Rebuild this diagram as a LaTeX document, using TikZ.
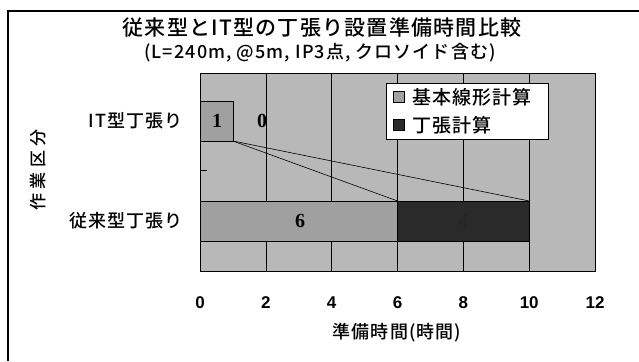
\documentclass[tikz,border=0pt]{standalone}
\usepackage{fontspec}
\setmainfont{Noto Sans CJK JP}
\newfontfamily\jpfont[LetterSpace=6]{Noto Sans CJK JP Medium}
\newfontfamily\jpwide[LetterSpace=26]{Noto Sans CJK JP Medium}
\newfontfamily\numfont{Liberation Sans}
\newfontfamily\barfont{Liberation Serif}
\begin{document}
\begin{tikzpicture}[x=1pt,y=-1pt,
  gridline/.style={black,line width=0.6pt},
  seriesline/.style={black,line width=0.6pt},
  barlabel/.style={font=\barfont\bfseries\fontsize{20}{20}\selectfont,anchor=center,inner sep=0pt},
  ticklabel/.style={font=\numfont\bfseries\fontsize{17}{17}\selectfont,anchor=center,inner sep=0pt},
  catlabel/.style={font=\jpfont\fontsize{18}{18}\selectfont,anchor=east,inner sep=0pt},
  legendtext/.style={font=\jpfont\fontsize{19}{19}\selectfont,anchor=west,inner sep=0pt},
  swatch/.style={draw=black,line width=0.5pt,minimum width=11pt,minimum height=11pt,inner sep=0pt}]
\definecolor{plotgray}{HTML}{B8B8B8}
\definecolor{basegray}{HTML}{A0A0A0}
\definecolor{darkbar}{HTML}{2A2A2A}
\useasboundingbox (0,0) rectangle (639,361);
% outer frame
\draw[black,line width=1.4pt] (8,361) -- (8,11) -- (639,11);
% title
\node[font=\jpfont\fontsize{21}{21}\selectfont,inner sep=0pt] (title) at (322,28) {従来型とIT型の丁張り設置準備時間比較};
\node[font=\jpfont\fontsize{18}{18}\selectfont,inner sep=0pt] (subtitle) at (320,53) {(L=240m, @5m, IP3点, クロソイド含む)};
% plot area
\fill[plotgray] (200,73) rectangle (595,271);
\foreach \v in {2,4,...,10}
  \draw[gridline] ({200+32.92*\v},73) -- ({200+32.92*\v},271);
\draw[gridline] (200,170) -- (207,170);
% bars
\draw[black,line width=0.8pt,fill=basegray] (200,101) rectangle (232.9,141);
\draw[black,line width=0.8pt,fill=basegray] (200,201) rectangle (397.5,241);
\draw[black,line width=0.8pt,fill=darkbar] (397.5,201) rectangle (529.2,241);
\coordinate (itend) at (232.9,141);
\coordinate (basetop) at (397.5,201);
\coordinate (conventop) at (529.2,201);
\draw[seriesline] (itend) -- (basetop);
\draw[seriesline] (itend) -- (conventop);
\node[barlabel] (itbase) at (217,121) {1};
\node[barlabel] (itstake) at (262,121) {0};
\node[barlabel] (convbase) at (300,221) {6};
\node[barlabel,text=black!85] (convstake) at (463,221) {4};
\draw[black,line width=0.8pt] (200,73) rectangle (595,271);
% legend
\node[draw=black,fill=white,line width=0.6pt,minimum width=162pt,minimum height=56pt,inner sep=0pt] (legend) at (467,111) {};
\node[swatch,fill=basegray] (swbase) at (399,97) {};
\node[swatch,fill=darkbar] (swstake) at (399,125) {};
\node[legendtext] (lgbase) at (412,97) {基本線形計算};
\node[legendtext] (lgstake) at (412,125) {丁張計算};
% category axis
\node[catlabel] (catit) at (183,121) {IT型丁張り};
\node[catlabel] (catconv) at (183,221) {従来型丁張り};
\node[font=\jpwide\fontsize{17}{17}\selectfont,rotate=90,inner sep=0pt] (ytitle) at (38,170) {作業区分};
% value axis
\foreach \v in {0,2,...,12}
  \node[ticklabel] (tick\v) at ({200+32.92*\v},303) {\v};
\node[font=\jpfont\fontsize{18}{18}\selectfont,inner sep=0pt] (xtitle) at (397,333) {準備時間(時間)};
\end{tikzpicture}
\end{document}
